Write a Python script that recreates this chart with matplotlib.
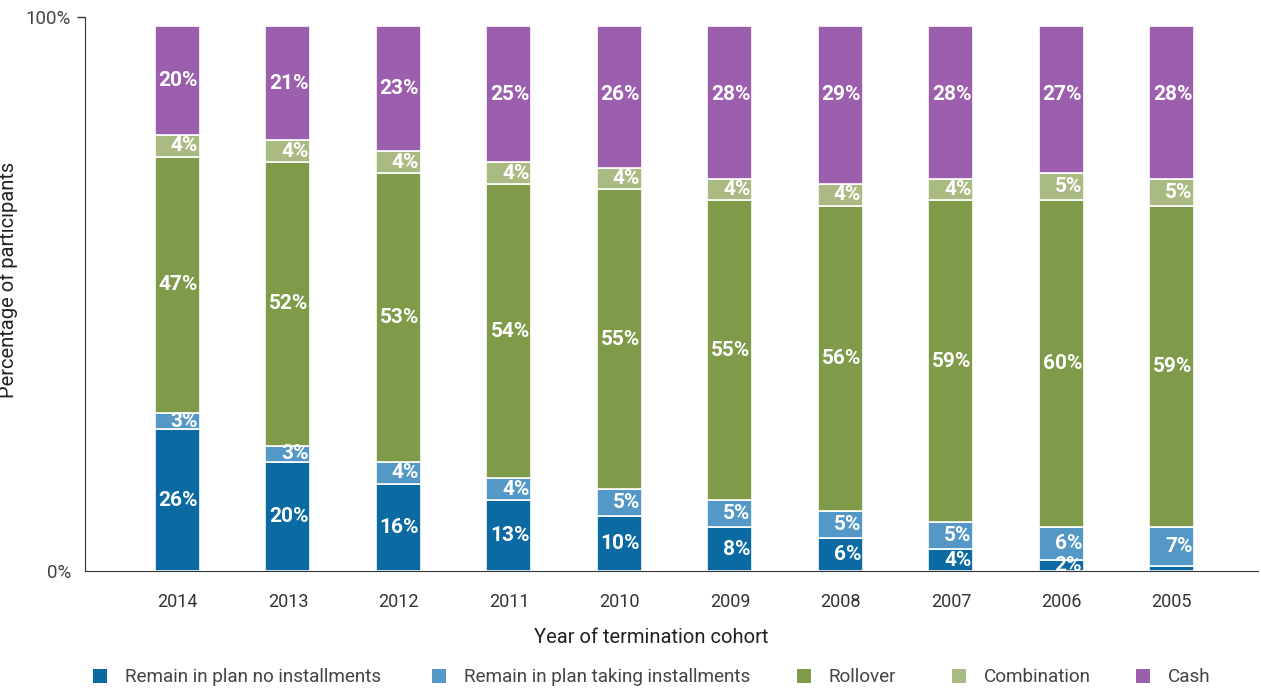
import numpy as np
import matplotlib
matplotlib.use("Agg")
import matplotlib.pyplot as plt
from matplotlib.patches import Rectangle

plt.rcParams['font.family'] = ['Roboto', 'DejaVu Sans']

years = ["2014", "2013", "2012", "2011", "2010", "2009", "2008", "2007", "2006", "2005"]
no_inst = [26, 20, 16, 13, 10, 8, 6, 4, 2, 1]
taking_inst = [3, 3, 4, 4, 5, 5, 5, 5, 6, 7]
rollover = [47, 52, 53, 54, 55, 55, 56, 59, 60, 59]
combination = [4, 4, 4, 4, 4, 4, 4, 4, 5, 5]
cash = [20, 21, 23, 25, 26, 28, 29, 28, 27, 28]

series = [no_inst, taking_inst, rollover, combination, cash]
names = ["Remain in plan no installments", "Remain in plan taking installments",
         "Rollover", "Combination", "Cash"]
colors = ["#0a6aa1", "#5398c6", "#7f9b4a", "#a9bb83", "#9c5fae"]

W, H = 1261, 689
fig = plt.figure(figsize=(W / 100, H / 100), dpi=100)
ax = fig.add_axes([85 / W, 1 - 571 / H, 1173 / W, 554 / H])

x = np.arange(len(years))
w = 0.407
bottom = np.zeros(len(years))
for k, (vals, col) in enumerate(zip(series, colors)):
    vals = np.array(vals, dtype=float)
    ax.bar(x, vals, w, bottom=bottom, color=col, edgecolor="white", linewidth=1.2)
    for i, v in enumerate(vals):
        if v < 2:
            continue
        ypos = bottom[i] + v / 2
        if k == 4:
            # cash labels sit no lower than a common line
            ypos = max(ypos, 87.5)
        ax.text(x[i] + 0.188, ypos, "%d%%" % v, ha="right", va="center",
                color="white", fontsize=15, fontweight="bold")
    bottom += vals

top = 101.65
ax.set_ylim(0, top)
ax.set_xlim(-0.837, 9.78)
ax.set_yticks([0, top])
ax.set_yticklabels(["0%", "100%"])
ax.set_xticks(x)
ax.set_xticklabels(years)
ax.tick_params(axis="x", length=0, pad=16, labelsize=13, labelcolor="#333333")
ax.tick_params(axis="y", length=6, width=1, color="#333333", pad=4, labelsize=13.5, labelcolor="#444444")
ax.yaxis.get_major_ticks()[0].tick1line.set_visible(False)
for s in ["top", "right"]:
    ax.spines[s].set_visible(False)
ax.spines["left"].set_color("#333333")
ax.spines["bottom"].set_color("#333333")

ax.set_xlabel("Year of termination cohort", fontsize=14.5, color="#222222")
ax.xaxis.set_label_coords(0.4825, -0.102)
ax.set_ylabel("Percentage of participants", fontsize=14.5, color="#222222")
ax.yaxis.set_label_coords(-0.057, 0.525)

# legend row along the bottom
leg_x = [93, 432, 797, 952, 1136]
for lx, name, col in zip(leg_x, names, colors):
    fig.patches.append(Rectangle((lx / W, 1 - 683 / H), 14 / W, 14 / H,
                                 transform=fig.transFigure, facecolor=col, edgecolor="none"))
    fig.text((lx + 32) / W, 1 - 677 / H, name, ha="left", va="center",
             fontsize=13.6, color="#444444")

fig.savefig("out.png", dpi=100)
